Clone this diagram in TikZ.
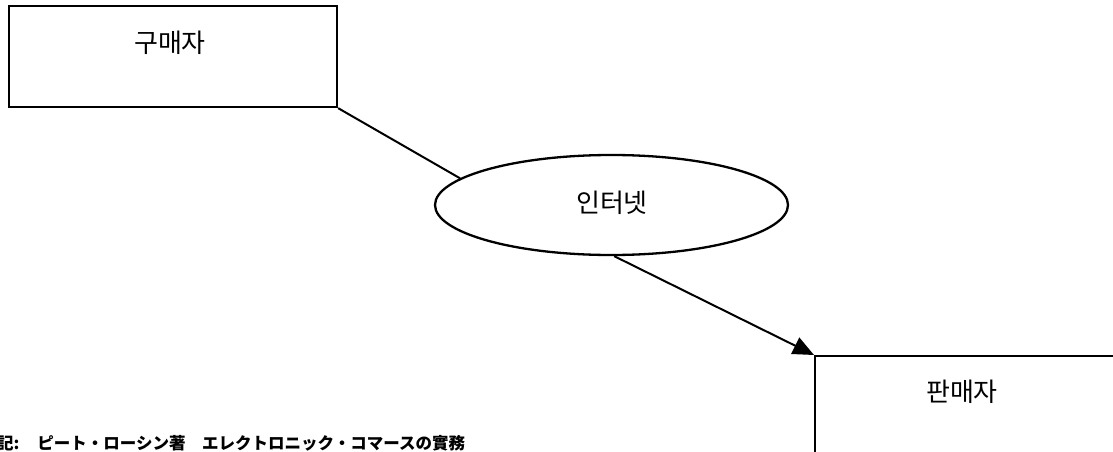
\documentclass[tikz,border=0pt]{standalone}
\usepackage{fontspec}
\usetikzlibrary{shapes.geometric,arrows.meta}
\newfontfamily\krfont{Noto Sans CJK KR}
\newfontfamily\jpfont{Noto Sans CJK JP}
\tikzset{
  boxshape/.style={draw=black, line width=2.3pt, rectangle, inner sep=0pt},
  ellshape/.style={draw=black, line width=2.3pt, ellipse, inner sep=0pt},
  krlabel/.style={font=\krfont\fontsize{26}{30}\selectfont, inner sep=0pt},
  conn/.style={line width=2pt},
}
\begin{document}
\begin{tikzpicture}[x=1pt,y=-1pt]
\useasboundingbox (0,0) rectangle (1113,452);
\clip (0,0) rectangle (1113,452);
\fill[white] (0,0) rectangle (1113,452);
% buyer box
\node[boxshape, minimum width=328pt, minimum height=101pt] (buyer) at (173,56.5) {};
\node[krlabel] (buyertext) at (170,43) {구매자};
% internet ellipse
\node[ellshape, minimum width=353pt, minimum height=100pt] (net) at (611.5,205) {};
\node[krlabel] (nettext) at (612,203) {인터넷};
% seller box (extends beyond the picture)
\node[boxshape, minimum width=400pt, minimum height=200pt, anchor=north west] (seller) at (814,355) {};
\node[krlabel] (sellertext) at (962,392) {판매자};
% connectors
\draw[conn] (buyer.south east) -- (net.170);
\draw[conn, -{Triangle[length=21pt,width=18pt]}] (net.273) -- (seller.north west);
% source note
\node[font=\jpfont\bfseries\fontsize{16.5}{18}\selectfont, inner sep=0pt, anchor=base west] (note) at (-3,449) {記:\hspace{18pt}ピート・ローシン著　エレクトロニック・コマースの實務};
\end{tikzpicture}
\end{document}
